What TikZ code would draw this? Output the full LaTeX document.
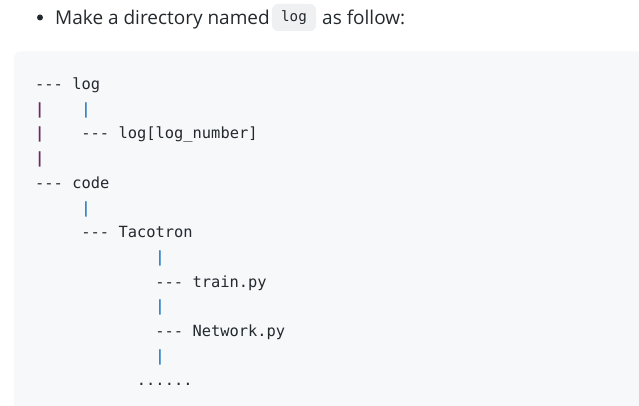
\documentclass[tikz,border=0pt]{standalone}
\usepackage{fontspec}
\setmainfont{Open Sans}
\setmonofont{DejaVu Sans Mono}
\usetikzlibrary{positioning}
\definecolor{textgray}{HTML}{24292E}
\definecolor{codebg}{HTML}{F6F8FA}
\definecolor{inlinebg}{HTML}{EEF0F2}
\definecolor{pipeblue}{HTML}{3A86C8}
\definecolor{pipepurple}{HTML}{6E2A5E}
\tikzstyle{codeline} = [anchor=base west, inner sep=0pt, font=\ttfamily\fontsize{15.4}{18}\selectfont, text=textgray]
\tikzstyle{pipe} = [codeline, font=\ttfamily\bfseries\fontsize{15.4}{18}\selectfont, text=pipeblue]
\tikzstyle{trunk} = [pipe, text=pipepurple]
\tikzstyle{prose} = [anchor=base west, inner sep=0pt, font=\fontsize{19}{22}\selectfont, text=textgray]
\begin{document}
\begin{tikzpicture}[x=1pt, y=-1pt]
    \useasboundingbox (0,0) rectangle (639,406);
    % Heading line
    \fill[textgray] (40,17.5) circle (3);
    \node (intro) [prose] at (55,24.5) {Make a directory named};
    \node (inlinelog) [fill=inlinebg, rounded corners=6pt, minimum width=44pt, minimum height=27pt, inner sep=0pt, font=\ttfamily\fontsize{14.2}{16}\selectfont, text=textgray] at (294,17.5) {log};
    \node (follow) [prose] at (322,24.5) {as follow:};

    % Code block
    \fill[codebg, rounded corners=6pt] (14,51.5) rectangle (660,430);

    % Tree lines
    \node (logdir) [codeline] at (35,89.5) {-{}-{}- log};
    \node (trunka) [trunk] at (35,114.2) {|};
    \node (logpipe) [pipe] at (81.25,114.2) {|};
    \node (trunkb) [trunk] at (35,138.9) {|};
    \node (lognum) [codeline] at (81.25,138.9) {-{}-{}- log[log\_number]};
    \node (trunkc) [trunk] at (35,163.6) {|};
    \node (codedir) [codeline] at (35,188.3) {-{}-{}- code};
    \node (codepipe) [pipe] at (81.25,213.0) {|};
    \node (taco) [codeline] at (81.25,237.7) {-{}-{}- Tacotron};
    \node (tacopipea) [pipe] at (155.25,262.4) {|};
    \node (train) [codeline] at (155.25,287.1) {-{}-{}- train.py};
    \node (tacopipeb) [pipe] at (155.25,311.8) {|};
    \node (network) [codeline] at (155.25,336.5) {-{}-{}- Network.py};
    \node (tacopipec) [pipe] at (155.25,361.2) {|};
    \node (more) [codeline] at (136.75,385.9) {......};
\end{tikzpicture}
\end{document}
